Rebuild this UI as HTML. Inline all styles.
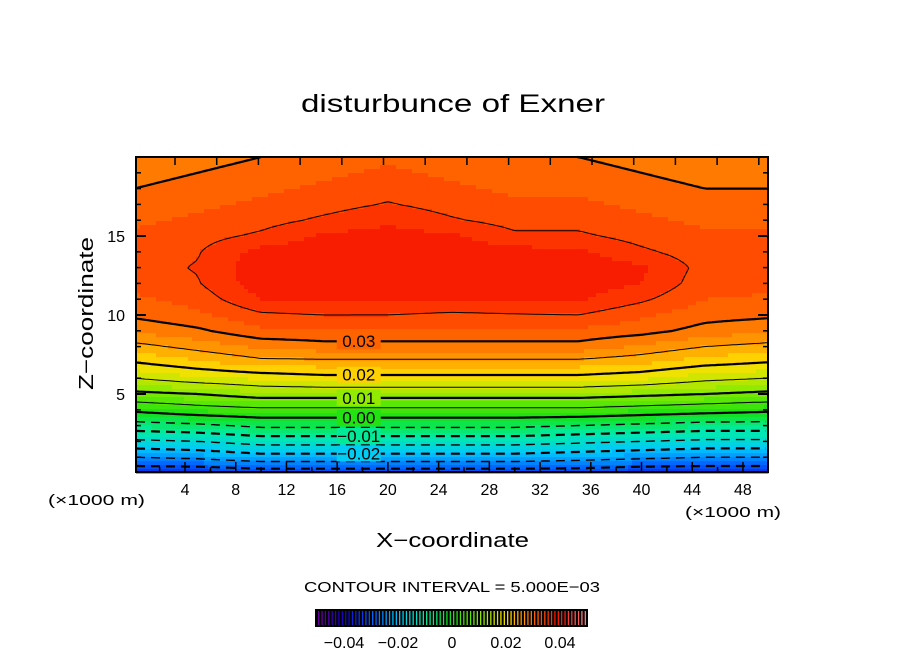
<!DOCTYPE html>
<html><head><meta charset="utf-8">
<style>
html,body{margin:0;padding:0;background:#fff;}
body{width:904px;height:654px;overflow:hidden;position:relative;font-family:"Liberation Sans",sans-serif;}
svg text{font-family:"Liberation Sans",sans-serif;fill:#000;}
</style></head>
<body>
<svg id="chart" width="904" height="654" viewBox="0 0 904 654" xmlns="http://www.w3.org/2000/svg">
  <text x="301" y="112" font-size="25" textLength="304" lengthAdjust="spacingAndGlyphs">disturbunce of Exner</text>
  <g id="field"></g>
  <g id="lines"></g>
  <g id="labels"></g>
  <rect x="136" y="157" width="632" height="315" fill="none" stroke="#000" stroke-width="2"/>
  <g id="ticks"></g>
  <text transform="translate(93,390) rotate(-90)" font-size="20" textLength="153" lengthAdjust="spacingAndGlyphs">Z−coordinate</text>
  <text x="376" y="547" font-size="20" textLength="153" lengthAdjust="spacingAndGlyphs">X−coordinate</text>
  <text x="48" y="505" font-size="15" textLength="97" lengthAdjust="spacingAndGlyphs">(×1000 m)</text>
  <text x="685" y="517" font-size="15" textLength="96" lengthAdjust="spacingAndGlyphs">(×1000 m)</text>
  <text x="304" y="592" font-size="15" textLength="296" lengthAdjust="spacingAndGlyphs">CONTOUR INTERVAL = 5.000E−03</text>
  <g id="cbar"></g>
</svg>
<script>
// ---- data ----
const xCols = [0,5,10,15,20,25,30,35,40,45,50];
const zRows = [0,1,2,3,4,5,6,7,8,9,10,11,12,13,14,15,16,17,18,19,20];
const col0  = [-0.034,-0.025,-0.016,-0.007,0.001,0.009,0.015,0.020,0.024,0.028,0.0305,0.032,0.0335,0.034,0.0335,0.033,0.032,0.031,0.030,0.029,0.028];
const col5  = [-0.034,-0.024,-0.015,-0.006,0.003,0.010,0.017,0.022,0.026,0.0295,0.032,0.0335,0.0348,0.0352,0.0348,0.034,0.033,0.032,0.031,0.030,0.029];
const col10 = [-0.033,-0.022,-0.013,-0.004,0.004,0.012,0.018,0.024,0.028,0.032,0.0345,0.0375,0.039,0.0392,0.0385,0.0355,0.034,0.033,0.032,0.031,0.030];
const col15 = [-0.033,-0.022,-0.013,-0.004,0.004,0.012,0.019,0.024,0.029,0.032,0.035,0.038,0.0395,0.0395,0.039,0.038,0.0355,0.034,0.033,0.032,0.031];
const col20 = [-0.033,-0.022,-0.013,-0.004,0.004,0.012,0.019,0.024,0.029,0.032,0.035,0.0375,0.039,0.0395,0.0395,0.0385,0.037,0.0352,0.034,0.033,0.032];
const col25 = [-0.033,-0.022,-0.013,-0.004,0.004,0.012,0.019,0.024,0.029,0.032,0.0345,0.0375,0.039,0.0395,0.039,0.038,0.0353,0.034,0.033,0.032,0.031];
const col30 = [-0.033,-0.022,-0.013,-0.004,0.004,0.012,0.019,0.024,0.029,0.032,0.0348,0.0375,0.039,0.0392,0.0385,0.0355,0.034,0.033,0.032,0.031,0.030];
const col35 = [-0.033,-0.023,-0.014,-0.005,0.004,0.012,0.019,0.024,0.029,0.032,0.035,0.0378,0.039,0.0392,0.038,0.0355,0.034,0.033,0.032,0.031,0.030];
const col40 = [-0.034,-0.024,-0.015,-0.006,0.003,0.011,0.018,0.023,0.027,0.031,0.033,0.0355,0.0375,0.038,0.0355,0.034,0.033,0.032,0.031,0.030,0.029];
const col45 = [-0.034,-0.025,-0.016,-0.007,0.002,0.010,0.016,0.021,0.025,0.029,0.031,0.0325,0.0335,0.034,0.0335,0.033,0.032,0.031,0.030,0.029,0.028];
const col50 = [-0.034,-0.025,-0.016,-0.007,0.001,0.009,0.015,0.020,0.024,0.028,0.0305,0.032,0.0335,0.034,0.0335,0.033,0.032,0.031,0.030,0.029,0.028];
const columns = [col0,col5,col10,col15,col20,col25,col30,col35,col40,col45,col50];
const contourLevels = [0,0.005,0.01,0.015,0.02,0.025,0.03,0.035];
const dashedLevels = [-0.03,-0.025,-0.02,-0.015,-0.01,-0.005];
const labeledLevels = [-0.02,-0.01,0,0.01,0.02,0.03];
const labelTexts = ["−0.02","−0.01","0.00","0.01","0.02","0.03"];
const xTicks = [4,8,12,16,20,24,28,32,36,40,44,48];
const zTicks = [5,10,15];
const cbarTicks = [-0.04,-0.02,0,0.02,0.04];
const cbarTickText = ["−0.04","−0.02","0","0.02","0.04"];

// ---- axes ----
const X0=136,X1=768,Y0=472,Y1=157;
const xs = x => 134.3 + x*12.68;
const zs = z => 473 - z*15.8;
const NS="http://www.w3.org/2000/svg";
function mk(tag,attrs,parent){const e=document.createElementNS(NS,tag);for(const k in attrs)e.setAttribute(k,attrs[k]);parent.appendChild(e);return e;}

function val(x,z){
  let i=0; while(i<xCols.length-2 && x>xCols[i+1]) i++;
  let j=0; while(j<zRows.length-2 && z>zRows[j+1]) j++;
  const tx=Math.min(1,Math.max(0,(x-xCols[i])/(xCols[i+1]-xCols[i])));
  const tz=Math.min(1,Math.max(0,(z-zRows[j])/(zRows[j+1]-zRows[j])));
  const a=columns[i][j],b=columns[i+1][j],c=columns[i][j+1],d=columns[i+1][j+1];
  return (a*(1-tx)+b*tx)*(1-tz)+(c*(1-tx)+d*tx)*tz;
}
const anchors=[[-0.05,[120,0,160]],[-0.04,[20,0,200]],[-0.03,[0,90,255]],[-0.02,[0,200,255]],[-0.01,[0,235,170]],[0,[20,225,20]],[0.01,[130,235,0]],[0.02,[255,225,0]],[0.025,[255,160,0]],[0.03,[255,110,0]],[0.035,[255,65,0]],[0.04,[245,15,0]],[0.05,[255,140,140]]];
function color(v){
  v=Math.floor(v/0.0025)*0.0025+0.00125;
  if(v<=anchors[0][0])return anchors[0][1];
  for(let k=0;k<anchors.length-1;k++){const [a,ca]=anchors[k],[b,cb]=anchors[k+1];
    if(v<=b){const t=(v-a)/(b-a);return ca.map((c,i)=>Math.round(c+(cb[i]-c)*t));}}
  return anchors[anchors.length-1][1];
}
// fill cells
const field=document.getElementById('field');
const step=4;
for(let py=Y1;py<Y0;py+=step){
  for(let px=X0;px<X1;px+=step){
    const x=(px+step/2-134.3)/12.68, z=(473-(py+step/2))/15.8;
    const c=color(val(x,z));
    const r=mk('rect',{x:px,y:py,width:step+0.5,height:step+0.5,fill:`rgb(${c[0]},${c[1]},${c[2]})`},field);
    
    
  }
}
// contours (marching squares)
const lines=document.getElementById('lines');
const gs=3, nx=Math.ceil((X1-X0)/gs), ny=Math.ceil((Y0-Y1)/gs);
const G=[];
for(let j=0;j<=ny;j++){G.push([]);for(let i=0;i<=nx;i++){const px=Math.min(X1,X0+i*gs),py=Math.min(Y0,Y1+j*gs);G[j].push(val((px-134.3)/12.68,(473-py)/15.8));}}
contourLevels.forEach(L=>{
  let d="";
  for(let j=0;j<ny;j++)for(let i=0;i<nx;i++){
    const p=[[i,j],[i+1,j],[i+1,j+1],[i,j+1]];
    const v=p.map(q=>G[q[1]][q[0]]);
    const pts=[];
    for(let k=0;k<4;k++){const a=v[k],b=v[(k+1)%4];
      if((a<L)!==(b<L)){const t=(L-a)/(b-a);const A=p[k],B=p[(k+1)%4];
        pts.push([X0+(A[0]+(B[0]-A[0])*t)*gs,Y1+(A[1]+(B[1]-A[1])*t)*gs]);}}
    for(let k=0;k+1<pts.length;k+=2)d+=`M${pts[k][0].toFixed(1)},${pts[k][1].toFixed(1)}L${pts[k+1][0].toFixed(1)},${pts[k+1][1].toFixed(1)}`;
  }
  const major=Math.abs(Math.round(L*1000)%10)===0;
  const path=mk('path',{d:d,fill:'none',stroke:'#000','stroke-width':major?2.2:1},lines);
  
  
});
// negative (dashed) contours traced as continuous polylines
dashedLevels.forEach(L=>{
  const pts=[];
  for(let px=X0;px<=X1;px+=3){
    const x=(px-134.3)/12.68;
    let prev=val(x,0);
    for(let z=0.02;z<8;z+=0.02){const v=val(x,z);if(prev<L&&v>=L){const zz=z-0.02+0.02*(L-prev)/(v-prev);pts.push(px.toFixed(1)+','+zs(zz).toFixed(1));break;}prev=v;}
  }
  const major=Math.abs(Math.round(L*1000)%10)===0;
  const pl=mk('polyline',{points:pts.join(' '),fill:'none',stroke:'#000','stroke-width':major?2.2:1.4,'stroke-dasharray':'9,6'},lines);
  
  
});
// labels
const labG=document.getElementById('labels');
labeledLevels.forEach((L,k)=>{
  const lx=17.7; let zz=0;
  for(let z=0;z<20;z+=0.02){if(val(lx,z)>=L){zz=z;break;}}
  const cx=xs(lx),cy=zs(zz);
  const r=mk('rect',{x:cx-22,y:cy-8,width:44,height:16,fill:`rgb(${color(L).join(',')})`},labG);
  
  
  const t=mk('text',{x:cx,y:cy+6,'font-size':17,'text-anchor':'middle'},labG);
  t.textContent=labelTexts[k];
  
  
});
// ticks
const tk=document.getElementById('ticks');
for(let x=2;x<50;x+=2){const major=x%4===0;
  const l=mk('line',{x1:xs(x),x2:xs(x),y1:Y0,y2:Y0-(major?10:5),stroke:'#000','stroke-width':1.5},tk);
  
  
}
for(let px=175;px<X1;px+=41.7){
  const l=mk('line',{x1:px,x2:px,y1:Y1,y2:Y1+8,stroke:'#000','stroke-width':1.5},tk);
  
  
}
for(let z=1;z<20;z++){const major=z%5===0;
  [[X0,1],[X1,-1]].forEach(([bx,s])=>{
    const l=mk('line',{x1:bx,x2:bx+s*(major?10:5),y1:zs(z),y2:zs(z),stroke:'#000','stroke-width':major?2:1.5},tk);
    
    
  });
}
xTicks.forEach(x=>{const t=mk('text',{x:xs(x),y:495,'font-size':16,'text-anchor':'middle'},tk);t.textContent=String(x);
  
  });
zTicks.forEach(z=>{const t=mk('text',{x:125,y:zs(z)+6,'font-size':16,'text-anchor':'end'},tk);t.textContent=String(z);
  
  });
// colorbar
const cb=document.getElementById('cbar');
const cbx=v=>452+v*2700;
const bg=mk('rect',{x:315,y:609,width:273,height:18,fill:'#000'},cb);


for(let v=-0.05+0.00125;v<0.05;v+=0.0025){
  const c=color(v);
  for(let s=0;s<2;s++){
    const l=mk('line',{x1:cbx(v)-1.7+s*3.4,x2:cbx(v)-1.7+s*3.4,y1:611,y2:625,stroke:`rgb(${c.join(',')})`,'stroke-width':1.3},cb);
    
    
  }
}
cbarTicks.forEach((v,k)=>{const t=mk('text',{x:cbx(v),y:648,'font-size':16,'text-anchor':'middle'},cb);t.textContent=cbarTickText[k];
  
  });
</script>
</body></html>
